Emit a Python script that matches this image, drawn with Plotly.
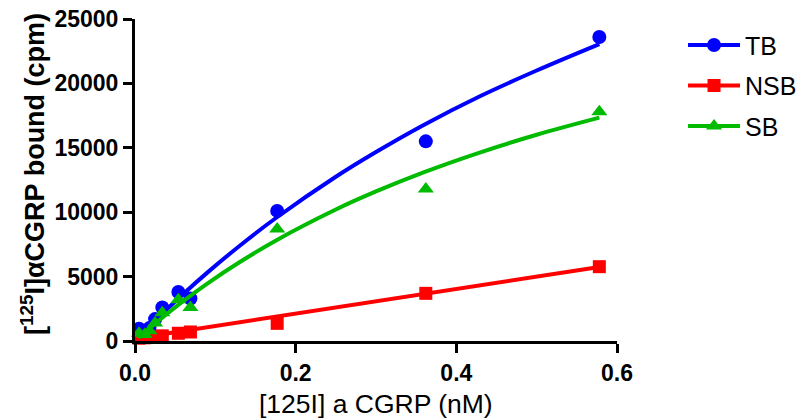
import plotly.graph_objects as go

# concentration of [125I] a CGRP (nM)
conc = [0.005, 0.012, 0.018, 0.025, 0.034, 0.054, 0.069, 0.177, 0.362, 0.578]
tb = [950, 750, 1000, 1700, 2600, 3800, 3300, 10100, 15500, 23600]
nsb = [220, 250, 300, 330, 400, 600, 700, 1370, 3700, 5770]
sb = [600, 500, 800, 1400, 2200, 3200, 2600, 8700, 11800, 17800]

# fitted curves
fit_x = [0.005, 0.02, 0.04, 0.06, 0.09, 0.13, 0.175, 0.25, 0.30, 0.36, 0.43, 0.50, 0.578]
tb_fit_y = [320, 1270, 2480, 3650, 5310, 7380, 9530, 12750, 14670, 16790, 19020, 21000, 23050]
sb_fit_y = [280, 1090, 2120, 3100, 4460, 6110, 7790, 10210, 11610, 13110, 14650, 16010, 17340]
nsb_fit_x = [0.005, 0.578]
nsb_fit_y = [250, 5750]

series = [
    ("TB", "#0000FF", "circle", 14, conc, tb, fit_x, tb_fit_y),
    ("NSB", "#FF0000", "square", 13, conc, nsb, nsb_fit_x, nsb_fit_y),
    ("SB", "#00BB00", "triangle-up", 14, conc, sb, fit_x, sb_fit_y),
]

fig = go.Figure()
for name, color, symbol, size, x, y, fx, fy in series:
    fig.add_trace(go.Scatter(x=fx, y=fy, mode="lines", line=dict(color=color, width=4, shape="spline"),
                             showlegend=False, hoverinfo="skip", cliponaxis=False))
    fig.add_trace(go.Scatter(x=x, y=y, mode="markers", marker=dict(color=color, symbol=symbol, size=size),
                             showlegend=False, cliponaxis=False, name=name))
    fig.add_trace(go.Scatter(x=[None], y=[None], mode="lines+markers", name=name, legendgroup=name,
                             line=dict(color=color, width=4),
                             marker=dict(color=color, symbol=symbol, size=size)))

tickfont = dict(family="Liberation Sans", size=23, color="black", weight="bold")
fig.update_layout(
    width=798, height=419,
    margin=dict(l=135, r=181, t=19, b=78, autoexpand=False),
    plot_bgcolor="white", paper_bgcolor="white",
    font=dict(family="Liberation Sans", color="black"),
    xaxis=dict(range=[0, 0.6], tickvals=[0, 0.2, 0.4, 0.6], ticktext=["0.0", "0.2", "0.4", "0.6"],
               showgrid=False, zeroline=False, showline=True, linecolor="black", linewidth=3,
               ticks="outside", ticklen=9, tickwidth=3, tickcolor="black", tickfont=tickfont,
               automargin=False),
    yaxis=dict(range=[0, 25000], tickvals=[0, 5000, 10000, 15000, 20000, 25000],
               ticktext=["0", "5000", "10000", "15000", "20000", "25000"],
               showgrid=False, zeroline=False, showline=True, linecolor="black", linewidth=3,
               ticks="outside", ticklen=9, tickwidth=3, tickcolor="black", tickfont=tickfont,
               automargin=False),
    legend=dict(x=1.137, y=0.99, xanchor="left", yanchor="top", font=dict(size=25),
                traceorder="grouped", tracegroupgap=5, itemwidth=52, bgcolor="rgba(0,0,0,0)"),
    showlegend=True,
    annotations=[
        dict(text="[125I] a CGRP (nM)", xref="paper", yref="paper", x=0.5, y=(341 - 404) / 322,
             xanchor="center", yanchor="middle", showarrow=False,
             font=dict(size=26.5, family="Liberation Sans", color="black")),
        dict(text="[<sup>125</sup>I]αCGRP bound (cpm)", xref="paper", yref="paper",
             x=(33 - 135) / 482, y=(341 - 174) / 322, xanchor="center", yanchor="middle",
             textangle=-90, showarrow=False,
             font=dict(size=27, family="Liberation Sans", color="black", weight="bold")),
    ],
)

fig.write_html("out.html", config={"displayModeBar": False},
               post_script="document.body.style.margin='0';document.body.style.overflow='hidden';")
